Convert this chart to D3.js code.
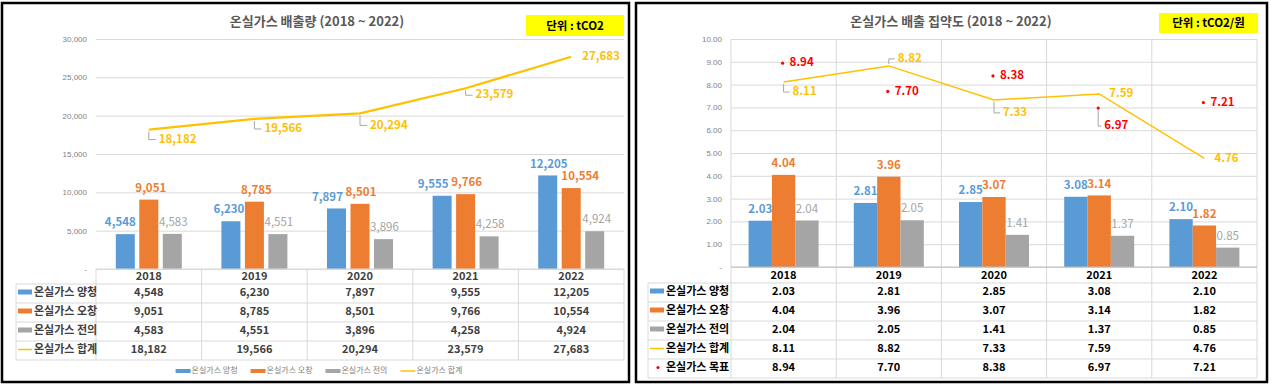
<!DOCTYPE html>
<html>
<head>
<meta charset="utf-8">
<script src="https://cdn.jsdelivr.net/npm/d3@7"></script>
<style>
  body { margin: 0; background: #fff; }
  svg { display: block; font-family: "Noto Sans CJK KR", "Noto Sans", sans-serif; }
</style>
</head>
<body>
<div id="wrapper"></div>
<script>
// ---- data ----
const years = ["2018", "2019", "2020", "2021", "2022"];
const seriesNames = ["온실가스 양청", "온실가스 오창", "온실가스 전의", "온실가스 합계", "온실가스 목표"];

const emissionYangcheong = [4548, 6230, 7897, 9555, 12205];
const emissionOchang = [9051, 8785, 8501, 9766, 10554];
const emissionJeonui = [4583, 4551, 3896, 4258, 4924];
const emissionTotal = [18182, 19566, 20294, 23579, 27683];
const emissionTicks = [0, 5000, 10000, 15000, 20000, 25000, 30000];

const intensityYangcheong = [2.03, 2.81, 2.85, 3.08, 2.10];
const intensityOchang = [4.04, 3.96, 3.07, 3.14, 1.82];
const intensityJeonui = [2.04, 2.05, 1.41, 1.37, 0.85];
const intensityTotal = [8.11, 8.82, 7.33, 7.59, 4.76];
const intensityTarget = [8.94, 7.70, 8.38, 6.97, 7.21];
const intensityTicks = [0, 1, 2, 3, 4, 5, 6, 7, 8, 9, 10];

const colors = {
  blue: "#5b9bd5",
  orange: "#ed7d31",
  gray: "#a5a5a5",
  yellow: "#ffc000",
  red: "#ff0000",
  grid: "#d9d9d9"
};

const width = 1271;
const height = 385;

const svg = d3.select("#wrapper")
  .append("svg")
  .attr("width", width)
  .attr("height", height)

function drawPanel(cfg) {
  const g = svg.append("g");
  const plot = cfg.plot;

  // frame
  g.append("rect")
    .attr("x", cfg.frame[0]).attr("y", cfg.frame[1])
    .attr("width", cfg.frame[2]).attr("height", cfg.frame[3])
    .attr("fill", "#fff")
    .attr("stroke", "#000")
    .attr("stroke-width", 2.5)

  // title + unit box
  g.append("text")
    .attr("x", cfg.titleX).attr("y", 22)
    .attr("text-anchor", "middle")
    .attr("dominant-baseline", "middle")
    .attr("font-size", 13)
    .attr("font-weight", 600)
    .attr("fill", "#595959")
    .text(cfg.title)

  g.append("rect")
    .attr("x", cfg.unitBox[0]).attr("y", cfg.unitBox[1])
    .attr("width", cfg.unitBox[2]).attr("height", cfg.unitBox[3])
    .attr("fill", "#ffff00")
  g.append("text")
    .attr("x", cfg.unitBox[0] + cfg.unitBox[2] / 2)
    .attr("y", cfg.unitBox[1] + cfg.unitBox[3] / 2 + 1)
    .attr("text-anchor", "middle")
    .attr("dominant-baseline", "middle")
    .attr("font-size", 11.5)
    .attr("font-weight", 700)
    .attr("fill", "#000")
    .text(cfg.unit)

  // scales
  const xScale = d3.scaleBand()
    .domain(years)
    .range([plot.left, plot.right])
  const yScale = d3.scaleLinear()
    .domain([0, d3.max(cfg.ticks)])
    .range([plot.bottom, plot.top])
  const inner = d3.scaleBand()
    .domain(d3.range(cfg.bars.length))
    .range([-cfg.groupWidth / 2, cfg.groupWidth / 2])
    .paddingInner(cfg.barPadding)
  const cx = yr => xScale(yr) + xScale.bandwidth() / 2;

  // y axis with gridlines
  const yAxisGenerator = d3.axisLeft(yScale)
    .tickValues(cfg.ticks)
    .tickSize(-(plot.right - plot.left))
    .tickFormat(d => d === 0 ? "-" : cfg.tickFormat(d))
  const yAxis = g.append("g")
    .attr("transform", `translate(${plot.left},0)`)
    .call(yAxisGenerator)
  yAxis.select(".domain").remove()
  yAxis.selectAll(".tick line").attr("stroke", colors.grid)
  yAxis.selectAll(".tick text")
    .attr("x", -9)
    .attr("font-family", "inherit")
    .attr("font-size", 8)
    .attr("fill", "#7f7f7f")

  // vertical gridlines / table columns
  const bounds = years.map(yr => xScale(yr)).concat([plot.right]);
  const tableBottom = plot.bottom + cfg.headerH + cfg.rowH * cfg.rows.length;
  g.append("g").selectAll("line")
    .data(bounds)
    .join("line")
    .attr("x1", d => d).attr("x2", d => d)
    .attr("y1", cfg.verticalGrid ? plot.top : plot.bottom)
    .attr("y2", tableBottom)
    .attr("stroke", colors.grid)

  // bars
  cfg.bars.forEach((s, i) => {
    const bg = g.append("g");
    bg.selectAll("rect")
      .data(s.values)
      .join("rect")
      .attr("x", (d, j) => cx(years[j]) + inner(i))
      .attr("width", inner.bandwidth())
      .attr("y", d => yScale(d))
      .attr("height", d => plot.bottom - yScale(d))
      .attr("fill", s.color)
    bg.selectAll("text")
      .data(s.values)
      .join("text")
      .attr("x", (d, j) => cx(years[j]) + inner(i) + inner.bandwidth() / 2 + (s.labelDx ? s.labelDx[j] : 0))
      .attr("y", d => yScale(d) - 11)
      .attr("text-anchor", "middle")
      .attr("dominant-baseline", "middle")
      .attr("font-size", 11.5)
      .attr("font-weight", s.bold ? 700 : 400)
      .attr("fill", s.color)
      .text(d => cfg.valueFormat(d))
  });

  // total line
  const lineGenerator = d3.line()
    .x((d, j) => cx(years[j]))
    .y(d => yScale(d))
  g.append("path")
    .attr("d", lineGenerator(cfg.line.values))
    .attr("fill", "none")
    .attr("stroke", colors.yellow)
    .attr("stroke-width", cfg.line.width)

  // point labels (with Excel style leader lines)
  function pointLabels(values, placements, color, offset) {
    values.forEach((v, j) => {
      const px = cx(years[j]) + offset;
      const py = yScale(v);
      const p = placements[j];
      if (p.leader) {
        const ly = py + p.dy;
        g.append("path")
          .attr("d", `M${px},${py + Math.sign(p.dy) * 2}V${ly}H${px + p.dx - 3}`)
          .attr("fill", "none")
          .attr("stroke", "#a6a6a6")
          .attr("stroke-width", 1)
      }
      g.append("text")
        .attr("x", px + p.dx)
        .attr("y", py + p.dy)
        .attr("dominant-baseline", "middle")
        .attr("font-size", 11.5)
        .attr("font-weight", 700)
        .attr("fill", color)
        .text(cfg.valueFormat(v))
    });
  }
  pointLabels(cfg.line.values, cfg.line.placements, colors.yellow, 0)

  if (cfg.target) {
    g.append("g").selectAll("circle")
      .data(cfg.target.values)
      .join("circle")
      .attr("cx", (d, j) => cx(years[j]) - 1)
      .attr("cy", d => yScale(d))
      .attr("r", 1.6)
      .attr("fill", colors.red)
    pointLabels(cfg.target.values, cfg.target.placements, colors.red, -1)
  }

  // data table
  const hb = plot.bottom + cfg.headerH;
  const hLines = d3.range(cfg.rows.length + 1).map(k => hb + k * cfg.rowH);
  g.append("g").selectAll("line")
    .data(hLines)
    .join("line")
    .attr("x1", cfg.tableLeft).attr("x2", plot.right)
    .attr("y1", d => d).attr("y2", d => d)
    .attr("stroke", colors.grid)
  g.append("line")
    .attr("x1", cfg.tableLeft).attr("x2", cfg.tableLeft)
    .attr("y1", hb).attr("y2", tableBottom)
    .attr("stroke", colors.grid)
  g.append("line")
    .attr("x1", plot.left).attr("x2", plot.right)
    .attr("y1", plot.bottom).attr("y2", plot.bottom)
    .attr("stroke", cfg.axisColor)

  g.append("g").selectAll("text")
    .data(years)
    .join("text")
    .attr("x", d => cx(d))
    .attr("y", plot.bottom + cfg.headerH / 2 + 1)
    .attr("text-anchor", "middle")
    .attr("dominant-baseline", "middle")
    .attr("font-size", 11)
    .attr("font-weight", 700)
    .attr("fill", cfg.tableColor)
    .text(d => d)

  cfg.rows.forEach((row, r) => {
    const my = hb + r * cfg.rowH + cfg.rowH / 2;
    const kx = cfg.tableLeft + 2;
    if (row.key === "rect") {
      g.append("rect").attr("x", kx).attr("y", my - 4).attr("width", 14).attr("height", 5).attr("fill", row.color)
    } else if (row.key === "line") {
      g.append("line").attr("x1", kx).attr("x2", kx + 14).attr("y1", my - 1).attr("y2", my - 1)
        .attr("stroke", row.color).attr("stroke-width", 1.5)
    } else {
      g.append("circle").attr("cx", kx + 8).attr("cy", my - 1).attr("r", 1.6).attr("fill", row.color)
    }
    g.append("text")
      .attr("x", kx + 16)
      .attr("y", my)
      .attr("dominant-baseline", "middle")
      .attr("font-size", 11)
      .attr("font-weight", 700)
      .attr("fill", cfg.tableColor)
      .text(row.name)
    g.append("g").selectAll("text")
      .data(row.values)
      .join("text")
      .attr("x", (d, j) => cx(years[j]))
      .attr("y", my)
      .attr("text-anchor", "middle")
      .attr("dominant-baseline", "middle")
      .attr("font-size", 11)
      .attr("font-weight", 700)
      .attr("fill", cfg.tableColor)
      .text(d => cfg.valueFormat(d))
  });

  // bottom legend
  if (cfg.legend) {
    const lg = g.append("g");
    let lx = 0;
    cfg.rows.forEach(row => {
      const item = lg.append("g").attr("transform", `translate(${lx},0)`);
      if (row.key === "rect") {
        item.append("rect").attr("x", 0).attr("y", -2).attr("width", 15).attr("height", 4).attr("fill", row.color)
      } else {
        item.append("line").attr("x1", 0).attr("x2", 15).attr("y1", 0).attr("y2", 0)
          .attr("stroke", row.color).attr("stroke-width", 1.5)
      }
      const t = item.append("text")
        .attr("x", 16)
        .attr("y", 0)
        .attr("dominant-baseline", "middle")
        .attr("font-size", 8)
        .attr("fill", "#7f7f7f")
        .text(row.name)
      lx += 16 + t.node().getComputedTextLength() + 13;
    });
    lx -= 13;
    lg.attr("transform", `translate(${cfg.legend.cx - lx / 2},${cfg.legend.y})`)
  }
}

// ---- left: emissions ----
drawPanel({
  frame: [2, 3, 627, 379],
  title: "온실가스 배출량 (2018 ~ 2022)",
  titleX: 317,
  unit: "단위 : tCO2",
  unitBox: [526, 15, 98, 21],
  plot: { left: 96, right: 624, top: 39, bottom: 269 },
  ticks: emissionTicks,
  tickFormat: d3.format(","),
  valueFormat: d3.format(","),
  groupWidth: 66,
  barPadding: 0.19,
  verticalGrid: false,
  axisColor: colors.grid,
  bars: [
    { values: emissionYangcheong, color: colors.blue, bold: true, labelDx: [-5, -2, -9, -9, 1] },
    { values: emissionOchang, color: colors.orange, bold: true, labelDx: [2, 2, 1, 1, 9] },
    { values: emissionJeonui, color: colors.gray, bold: false, labelDx: [1, 1, 1, 1, 2] }
  ],
  line: {
    values: emissionTotal,
    width: 2.25,
    placements: [
      { dx: 10, dy: 10, leader: true },
      { dx: 10, dy: 10, leader: true },
      { dx: 10, dy: 12, leader: true },
      { dx: 10, dy: 7, leader: true },
      { dx: 11, dy: 0, leader: false }
    ]
  },
  tableLeft: 16,
  headerH: 15,
  rowH: 19,
  tableColor: "#404040",
  rows: [
    { name: seriesNames[0], values: emissionYangcheong, key: "rect", color: colors.blue },
    { name: seriesNames[1], values: emissionOchang, key: "rect", color: colors.orange },
    { name: seriesNames[2], values: emissionJeonui, key: "rect", color: colors.gray },
    { name: seriesNames[3], values: emissionTotal, key: "line", color: colors.yellow }
  ],
  legend: { cx: 319, y: 371 }
});

// ---- right: intensity ----
drawPanel({
  frame: [636, 3, 631, 379],
  title: "온실가스 배출 집약도 (2018 ~ 2022)",
  titleX: 951,
  unit: "단위 : tCO2/원",
  unitBox: [1159, 13, 99, 20],
  plot: { left: 731, right: 1257, top: 39, bottom: 267 },
  ticks: intensityTicks,
  tickFormat: d3.format(".2f"),
  valueFormat: d3.format(".2f"),
  groupWidth: 70,
  barPadding: 0,
  verticalGrid: true,
  axisColor: "#bfbfbf",
  bars: [
    { values: intensityYangcheong, color: colors.blue, bold: true },
    { values: intensityOchang, color: colors.orange, bold: true },
    { values: intensityJeonui, color: colors.gray, bold: false }
  ],
  line: {
    values: intensityTotal,
    width: 1.5,
    placements: [
      { dx: 9, dy: 10, leader: true },
      { dx: 9, dy: -7, leader: true },
      { dx: 9, dy: 13, leader: true },
      { dx: 10, dy: 0, leader: false },
      { dx: 10, dy: 0, leader: false }
    ]
  },
  target: {
    values: intensityTarget,
    placements: [
      { dx: 7, dy: 0, leader: false },
      { dx: 7, dy: 0, leader: false },
      { dx: 7, dy: 0, leader: false },
      { dx: 6, dy: 18, leader: true },
      { dx: 7, dy: 0, leader: false }
    ]
  },
  tableLeft: 648,
  headerH: 16,
  rowH: 19,
  tableColor: "#000",
  rows: [
    { name: seriesNames[0], values: intensityYangcheong, key: "rect", color: colors.blue },
    { name: seriesNames[1], values: intensityOchang, key: "rect", color: colors.orange },
    { name: seriesNames[2], values: intensityJeonui, key: "rect", color: colors.gray },
    { name: seriesNames[3], values: intensityTotal, key: "line", color: colors.yellow },
    { name: seriesNames[4], values: intensityTarget, key: "dot", color: colors.red }
  ],
  legend: null
});
</script>
</body>
</html>
